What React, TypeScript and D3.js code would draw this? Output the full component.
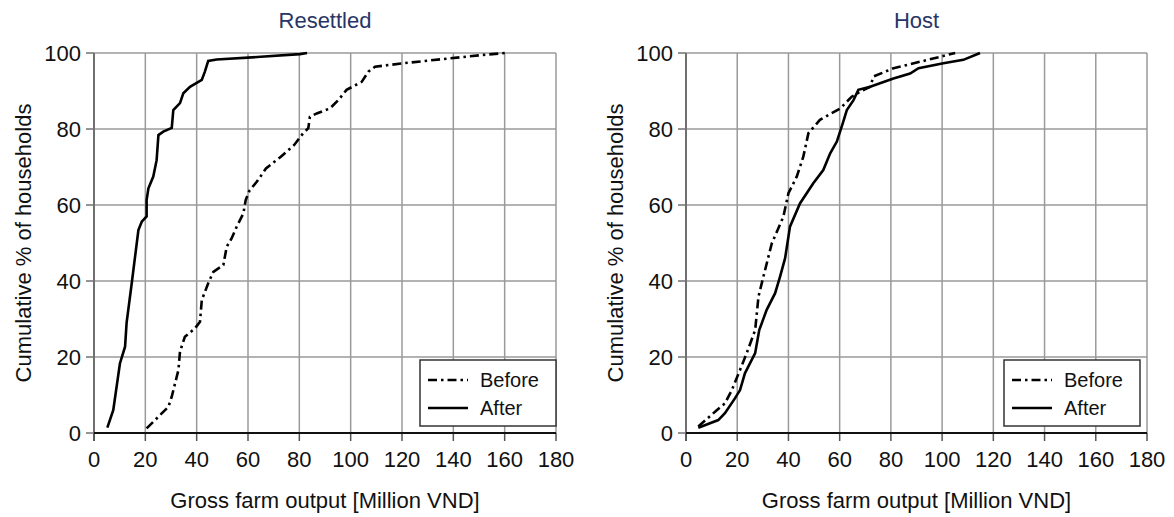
import React, { useEffect, useRef } from 'react';
import * as d3 from 'd3';

// tick values shared by both panels
const xTicks = [0, 20, 40, 60, 80, 100, 120, 140, 160, 180];
const yTicks = [0, 20, 40, 60, 80, 100];

// Resettled households
const resettledAfterX = [5.2, 7.5, 10.1, 12.1, 12.7, 14.7, 16.0, 17.3, 18.6, 20.5, 20.5, 21.2, 23.1, 24.4, 25.1, 27.0, 30.3, 30.9, 33.5, 34.8, 37.4, 42.0, 43.2, 44.5, 47.8, 65.0, 80.2, 83.0];
const resettledAfterPct = [1.4, 6.0, 18.3, 22.7, 29.0, 39.4, 46.4, 53.4, 55.6, 57.0, 61.3, 64.4, 67.5, 71.8, 78.4, 79.3, 80.3, 85.0, 86.8, 89.4, 91.1, 92.9, 95.1, 97.9, 98.3, 99.0, 99.7, 100];
const resettledBeforeX = [20.5, 29.0, 30.3, 32.9, 33.5, 35.4, 39.3, 41.3, 42.0, 44.5, 46.5, 50.4, 51.7, 53.6, 55.6, 58.2, 59.1, 60.5, 63.4, 67.0, 72.8, 78.0, 81.5, 83.5, 84.1, 86.8, 91.9, 95.2, 98.4, 104.3, 106.9, 109.5, 120.5, 138.7, 151.7, 160.1];
const resettledBeforePct = [1.2, 6.9, 9.6, 16.6, 21.4, 25.3, 27.5, 29.3, 35.0, 39.4, 42.4, 44.2, 49.0, 51.2, 54.3, 57.8, 61.3, 63.7, 66.1, 69.6, 72.7, 75.8, 78.9, 80.2, 83.2, 84.1, 85.4, 87.6, 90.3, 92.4, 95.1, 96.4, 97.3, 98.6, 99.5, 100];

// Host households
const hostBeforeX = [4.8, 12.0, 15.2, 17.9, 21.1, 23.7, 27.0, 28.3, 30.2, 33.5, 38.0, 40.0, 43.2, 45.8, 47.8, 52.3, 60.2, 64.7, 68.0, 71.9, 73.2, 81.0, 91.4, 99.2, 105.1];
const hostBeforePct = [1.7, 6.0, 7.8, 11.3, 16.6, 21.0, 27.1, 35.9, 41.1, 49.9, 56.9, 63.1, 67.4, 72.7, 78.9, 82.4, 85.4, 88.5, 89.8, 91.1, 93.8, 96.0, 97.7, 99.0, 100];
const hostAfterX = [4.8, 12.6, 15.2, 19.1, 21.1, 23.0, 27.0, 28.6, 31.5, 34.8, 36.7, 38.7, 40.6, 44.5, 49.7, 53.6, 56.3, 58.9, 61.2, 62.8, 65.4, 67.3, 71.9, 81.0, 87.5, 90.8, 100.5, 108.3, 114.8];
const hostAfterPct = [1.4, 3.4, 5.2, 9.1, 11.3, 15.7, 21.0, 27.1, 32.4, 36.8, 41.1, 46.0, 54.3, 60.4, 65.7, 69.2, 73.6, 76.7, 81.5, 85.0, 87.6, 90.3, 91.1, 93.3, 94.6, 96.0, 97.3, 98.2, 100];

const zip = (xs: number[], ys: number[]) => xs.map((x, i) => [x, ys[i]] as [number, number]);

const panels = [
  { title: 'Resettled', left: 94, right: 556, legendRight: 556, before: zip(resettledBeforeX, resettledBeforePct), after: zip(resettledAfterX, resettledAfterPct) },
  { title: 'Host', left: 686, right: 1147, legendRight: 1140, before: zip(hostBeforeX, hostBeforePct), after: zip(hostAfterX, hostAfterPct) },
];

const FONT = '"Liberation Sans", Arial, sans-serif';
const DASHDOT = '9,4,2.5,4';

const App = () => {
  const ref = useRef<SVGSVGElement>(null);

  useEffect(() => {
    const svg = d3.select(ref.current);
    svg.selectAll('*').remove();

    const top = 53;
    const bottom = 433;

    panels.forEach((p) => {
      const x = d3.scaleLinear().domain([0, 180]).range([p.left, p.right]);
      const y = d3.scaleLinear().domain([0, 100]).range([bottom, top]);
      const g = svg.append('g').style('font-family', FONT);

      // grid
      g.selectAll('.vgrid')
        .data(xTicks.slice(1))
        .enter()
        .append('line')
        .attr('x1', d => x(d)).attr('x2', d => x(d))
        .attr('y1', top).attr('y2', bottom)
        .attr('stroke', '#9a9a9a').attr('stroke-width', 1.5);
      g.selectAll('.hgrid')
        .data(yTicks.slice(1))
        .enter()
        .append('line')
        .attr('x1', p.left).attr('x2', p.right)
        .attr('y1', d => y(d)).attr('y2', d => y(d))
        .attr('stroke', '#9a9a9a').attr('stroke-width', 1.5);

      // left axis
      g.append('line')
        .attr('x1', p.left).attr('x2', p.left)
        .attr('y1', top).attr('y2', bottom + 8)
        .attr('stroke', '#707070').attr('stroke-width', 2);
      g.selectAll('.ytick')
        .data(yTicks)
        .enter()
        .append('line')
        .attr('x1', p.left - 8).attr('x2', p.left)
        .attr('y1', d => y(d)).attr('y2', d => y(d))
        .attr('stroke', '#707070').attr('stroke-width', 1.5);
      g.selectAll('.ylab')
        .data(yTicks)
        .enter()
        .append('text')
        .attr('x', p.left - 13)
        .attr('y', d => y(d) + 8)
        .attr('text-anchor', 'end')
        .style('font-size', '22px')
        .style('fill', '#111')
        .text(d => d);

      // bottom axis
      g.selectAll('.xtick')
        .data(xTicks)
        .enter()
        .append('line')
        .attr('x1', d => x(d)).attr('x2', d => x(d))
        .attr('y1', bottom).attr('y2', bottom + 8)
        .attr('stroke', '#555').attr('stroke-width', 1.5);
      g.append('line')
        .attr('x1', p.left).attr('x2', p.right)
        .attr('y1', bottom).attr('y2', bottom)
        .attr('stroke', '#111').attr('stroke-width', 2.2);
      g.selectAll('.xlab')
        .data(xTicks)
        .enter()
        .append('text')
        .attr('x', d => x(d))
        .attr('y', bottom + 34)
        .attr('text-anchor', 'middle')
        .style('font-size', '22px')
        .style('fill', '#111')
        .text(d => d);

      // series
      const line = d3.line<[number, number]>().x(d => x(d[0])).y(d => y(d[1]));
      g.append('path')
        .attr('d', line(p.before))
        .attr('fill', 'none')
        .attr('stroke', '#000')
        .attr('stroke-width', 2.6)
        .attr('stroke-dasharray', DASHDOT);
      g.append('path')
        .attr('d', line(p.after))
        .attr('fill', 'none')
        .attr('stroke', '#000')
        .attr('stroke-width', 2.6);

      // titles
      const cx = (p.left + p.right) / 2;
      g.append('text')
        .attr('x', cx).attr('y', 28)
        .attr('text-anchor', 'middle')
        .style('font-size', '22px')
        .style('fill', '#283566')
        .text(p.title);
      g.append('text')
        .attr('x', cx).attr('y', 508)
        .attr('text-anchor', 'middle')
        .style('font-size', '22px')
        .style('fill', '#111')
        .text('Gross farm output [Million VND]');
      g.append('text')
        .attr('transform', `translate(${p.left - 63}, ${(top + bottom) / 2}) rotate(-90)`)
        .attr('text-anchor', 'middle')
        .style('font-size', '22px')
        .style('fill', '#111')
        .text('Cumulative % of households');

      // legend
      const lx = p.legendRight - 136;
      const legend = g.append('g').attr('transform', `translate(${lx}, 360)`);
      legend.append('rect')
        .attr('width', 136).attr('height', 66)
        .attr('fill', '#fff')
        .attr('stroke', '#333').attr('stroke-width', 1.5);
      const items = [
        { label: 'Before', dash: DASHDOT },
        { label: 'After', dash: null },
      ];
      items.forEach((it, i) => {
        const ly = 20 + i * 28;
        legend.append('line')
          .attr('x1', 8).attr('x2', 48)
          .attr('y1', ly).attr('y2', ly)
          .attr('stroke', '#000').attr('stroke-width', 2.6)
          .attr('stroke-dasharray', it.dash);
        legend.append('text')
          .attr('x', 60).attr('y', ly + 7)
          .style('font-size', '20px')
          .style('fill', '#111')
          .text(it.label);
      });
    });
  }, []);

  return (
    <svg
      ref={ref}
      width={1174}
      height={517}
      style={{ position: 'absolute', left: 0, top: 0, background: '#fff' }}
    />
  );
};

export default App;
